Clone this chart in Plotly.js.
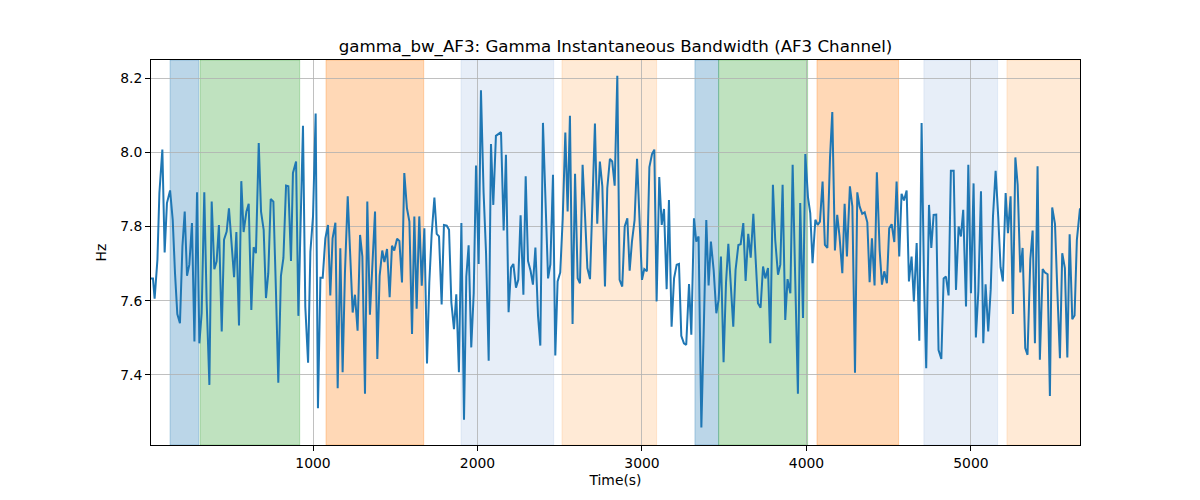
<!DOCTYPE html>
<html>
<head>
<meta charset="utf-8">
<script src="https://cdn.plot.ly/plotly-3.0.1.min.js"></script>
<style>
  html, body { margin: 0; padding: 0; background: #fff; }
  #chart { width: 1200px; height: 500px; }
</style>
</head>
<body>
<div id="chart"></div>
<script>
// Time (s)
const timeS = [
  15,27,37,54,66,84,98,112,131,147,161,175,191,206,220,234,248,264,279,295,309,323,339,353,370,384,400,414,428,445,459,475,489,503,520,534,550,564,578,595,609,625,639,653,670,684,700,714,
  728,743,759,775,789,805,820,836,850,866,878,897,911,939,953,970,984,1000,1016,1030,1045,1059,1075,1091,1105,1119,1136,1150,1166,1180,1194,1211,1225,1241,1255,1271,1286,1300,1316,1330,1346,1361,1377,1391,1405,1421,
  1434,1450,1466,1480,1494,1511,1525,1541,1555,1571,1586,1602,1616,1630,1646,1661,1677,1693,1707,1721,1738,1752,1766,1782,1796,1813,1827,1841,1857,1871,1887,1902,1918,1932,1946,1962,1977,1991,2007,2021,2037,2052,2068,2082,2096,2112,2127,
  2143,2159,2173,2189,2204,2218,2234,2248,2262,2279,2293,2307,2323,2337,2352,2368,2382,2398,2412,2429,2443,2459,2473,2487,2503,2518,2534,2548,2562,2578,2593,2609,2623,2639,2653,2668,2684,2698,2714,2728,2744,2759,2775,2789,2805,2819,2834,
  2850,2864,2880,2895,2911,2925,2939,2955,2970,2986,3000,3014,3030,3045,3061,3075,3089,3105,3120,3134,3150,3164,3180,3195,3211,3225,3239,3255,3269,3286,3300,3316,3330,3344,3361,3375,3391,3405,3419,3436,3452,3466,3480,3496,3511,3525,
  3555,3569,3586,3600,3616,3630,3646,3661,3677,3691,3705,3721,3736,3750,3766,3780,3796,3810,3827,3841,3855,3871,3885,3902,3916,3932,3948,3962,3979,3993,4009,4023,4037,4054,4068,4082,4098,4112,4127,4143,4157,4173,4187,4201,4218,4232,4246,
  4264,4279,4295,4309,4323,4339,4354,4370,4384,4398,4414,4428,4445,4459,4473,4489,4503,4518,4534,4548,4564,4578,4593,4609,4623,4639,4653,4670,4686,4700,4714,4728,4745,4759,4773,4789,4803,4820,4834,4848,4864,4878,4895,4909,4925,4939,4953,
  4970,4984,5000,5016,5030,5045,5061,5075,5089,5105,5120,5134,5150,5166,5180,5194,5211,5225,5241,5255,5270,5284,5300,5314,5330,5344,5361,5375,5389,5405,5419,5436,5450,5466,5480,5494,5511,5525,5541,5555,5571,5586,5600,5616,5630,5644,5663
];
// Gamma instantaneous bandwidth (Hz)
const bandwidthHz = [
  7.66,7.66,7.605,7.71,7.89,8.007,7.73,7.863,7.897,7.818,7.674,7.564,7.539,7.746,7.84,7.667,7.697,7.809,7.49,7.892,7.485,7.566,7.892,7.602,7.373,7.867,7.685,7.706,7.804,7.517,7.764,7.786,7.849,7.764,7.663,7.785,7.533,7.922,7.785,7.84,7.861,7.575,7.744,7.728,8.025,7.84,7.791,7.607,
  7.674,7.874,7.867,7.62,7.379,7.667,7.715,7.91,7.908,7.707,7.944,7.975,7.559,8.071,7.584,7.433,7.732,7.827,8.104,7.31,7.662,7.662,7.768,7.804,7.614,7.768,7.81,7.364,7.741,7.407,7.674,7.881,7.741,7.568,7.616,7.519,7.777,7.719,7.349,7.867,7.562,7.71,7.84,7.443,7.667,7.735,
  7.704,7.739,7.609,7.748,7.735,7.767,7.761,7.649,7.944,7.849,7.813,7.51,7.827,7.578,7.827,7.64,7.795,7.431,7.649,7.777,7.878,7.78,7.773,7.59,7.804,7.802,7.791,7.595,7.523,7.617,7.407,7.809,7.279,7.665,7.749,7.474,7.62,7.964,7.699,8.167,7.892,7.728,7.438,8.022,7.858,8.044,8.048,
  8.054,7.789,7.993,7.569,7.689,7.699,7.635,7.656,7.83,7.616,7.935,7.707,7.68,7.643,7.743,7.559,7.479,8.079,7.867,7.66,7.698,7.939,7.452,7.652,7.676,7.82,8.053,7.84,8.098,7.537,7.942,7.66,7.647,7.966,7.836,7.688,7.658,7.84,8.077,7.807,7.975,7.908,7.638,7.903,7.982,7.975,7.91,
  8.206,7.656,7.638,7.8,7.822,7.681,7.759,7.817,7.982,7.804,7.656,7.685,7.679,7.96,7.995,8.007,7.598,7.933,7.804,7.847,7.631,7.871,7.53,7.66,7.697,7.699,7.505,7.485,7.481,7.645,7.508,7.822,7.759,7.773,7.258,7.512,7.817,7.641,7.759,7.681,7.566,7.602,7.719,7.434,7.649,7.753,
  7.53,7.683,7.75,7.752,7.809,7.653,7.78,7.716,7.834,7.712,7.593,7.581,7.692,7.66,7.688,7.485,7.912,7.764,7.67,7.697,7.912,7.548,7.658,7.62,7.966,7.652,7.349,7.863,7.553,7.995,7.879,7.836,7.701,7.818,7.804,7.813,7.921,7.75,7.742,7.984,8.108,7.735,7.831,7.773,7.674,7.861,7.719,
  7.908,7.854,7.406,7.892,7.854,7.834,7.838,7.811,7.65,7.768,7.641,7.946,7.735,7.643,7.679,7.647,7.795,7.806,7.758,7.921,7.719,7.888,7.87,7.897,7.652,7.719,7.598,7.755,7.492,8.079,7.665,7.418,7.858,7.742,7.831,7.832,7.467,7.443,7.66,7.665,7.614,7.95,7.95,7.629,7.8,7.773,7.845,
  7.584,7.966,7.62,7.916,7.501,7.625,7.895,7.485,7.644,7.517,7.629,7.827,7.95,7.825,7.69,7.652,7.89,7.782,7.881,7.564,7.986,7.912,7.676,7.742,7.472,7.454,7.712,7.789,7.485,7.962,7.441,7.685,7.676,7.671,7.343,7.851,7.806,7.629,7.445,7.728,7.688,7.447,7.779,7.55,7.56,7.764,7.849
];
// Shaded segments
const spanStart = [131, 313, 1079, 1900, 2514, 3322, 3466, 4064, 4714, 5219];
const spanEnd   = [305, 919, 1673, 2463, 3089, 3466, 4007, 4560, 5162, 5700];
const spanColor = ['#1f77b4','#2ca02c','#ff7f0e','#aec7e8','#ffbb78','#1f77b4','#2ca02c','#ff7f0e','#aec7e8','#ffbb78'];

function rgba(hex, a) {
  const r = parseInt(hex.slice(1,3),16), g = parseInt(hex.slice(3,5),16), b = parseInt(hex.slice(5,7),16);
  return `rgba(${r},${g},${b},${a})`;
}

const shapes = spanStart.map((s, i) => ({
  type: 'rect', xref: 'x', yref: 'paper',
  x0: s, x1: spanEnd[i], y0: 0, y1: 1,
  fillcolor: rgba(spanColor[i], 0.3),
  line: { color: rgba(spanColor[i], 0.3), width: 1 },
  layer: 'below'
}));

const trace = {
  x: timeS, y: bandwidthHz, type: 'scatter', mode: 'lines',
  line: { color: '#1f77b4', width: 2 },
  hoverinfo: 'x+y'
};

const axisCommon = {
  showgrid: true, gridcolor: '#b0b0b0', gridwidth: 0.8,
  showline: true, linecolor: '#000', linewidth: 1, mirror: true,
  ticks: 'outside', ticklen: 5, tickcolor: '#000', tickwidth: 1,
  zeroline: false,
  tickfont: { family: 'DejaVu Sans', size: 13.9, color: '#000' }
};

const layout = {
  width: 1200, height: 500,
  margin: { l: 151, r: 120, t: 60, b: 55 },
  paper_bgcolor: '#fff', plot_bgcolor: '#fff',
  font: { family: 'DejaVu Sans', color: '#000' },
  title: {
    text: 'gamma_bw_AF3: Gamma Instantaneous Bandwidth (AF3 Channel)',
    font: { family: 'DejaVu Sans', size: 16.67, color: '#000' },
    x: 0.5, xref: 'paper', y: 0.908, yref: 'container', yanchor: 'middle'
  },
  xaxis: Object.assign({}, axisCommon, {
    range: [15, 5663],
    tickvals: [1000, 2000, 3000, 4000, 5000],
    title: { text: 'Time(s)', font: { family: 'DejaVu Sans', size: 13.9, color: '#000' }, standoff: 5 }
  }),
  yaxis: Object.assign({}, axisCommon, {
    range: [7.211, 8.2485],
    tickvals: [7.4, 7.6, 7.8, 8.0, 8.2],
    tickformat: '.1f',
    title: { text: 'Hz', font: { family: 'DejaVu Sans', size: 13.9, color: '#000' }, standoff: 10 }
  }),
  shapes: shapes,
  showlegend: false
};

Plotly.newPlot('chart', [trace], layout, { displayModeBar: false, staticPlot: true });
</script>
</body>
</html>
